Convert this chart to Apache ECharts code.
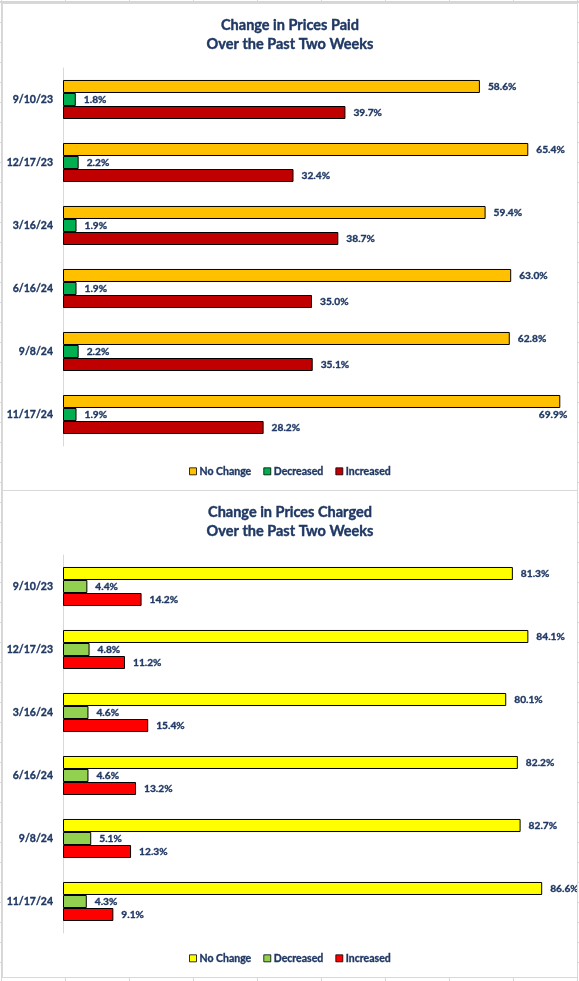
<!DOCTYPE html>
<html>
<head>
<meta charset="utf-8">
<script src="https://cdn.jsdelivr.net/npm/echarts@6/dist/echarts.min.js"></script>
<style>
  html, body { margin: 0; padding: 0; width: 579px; height: 981px; overflow: hidden; }
  body {
    background-color: #ffffff;
    background-image:
      repeating-linear-gradient(to right, #d6d6d6 0, #d6d6d6 1px, transparent 1px, transparent 64px),
      repeating-linear-gradient(to bottom, #d6d6d6 0, #d6d6d6 1px, transparent 1px, transparent 20px);
    background-position: 1px 2px, 0 2px;
    position: relative;
  }
  .box { position: absolute; left: 2px; width: 574px; height: 486px; background: #fff; border: 1px solid #d9d9d9; }
  #c1 { top: 3px; }
  #c2 { top: 490px; }
</style>
</head>
<body>
<div id="c1" class="box"></div>
<div id="c2" class="box"></div>
<script>
const categories = ['9/10/23', '12/17/23', '3/16/24', '6/16/24', '9/8/24', '11/17/24'];
const seriesNames = ['No Change', 'Decreased', 'Increased'];

const paidTitle = 'Change in Prices Paid\nOver the Past Two Weeks';
const paidNoChange = [58.6, 65.4, 59.4, 63.0, 62.8, 69.9];
const paidDecreased = [1.8, 2.2, 1.9, 1.9, 2.2, 1.9];
const paidIncreased = [39.7, 32.4, 38.7, 35.0, 35.1, 28.2];
const paidMax = 70;

const chargedTitle = 'Change in Prices Charged\nOver the Past Two Weeks';
const chargedNoChange = [81.3, 84.1, 80.1, 82.2, 82.7, 86.6];
const chargedDecreased = [4.4, 4.8, 4.6, 4.6, 5.1, 4.3];
const chargedIncreased = [14.2, 11.2, 15.4, 13.2, 12.3, 9.1];
const chargedMax = 90;

const NAVY = '#1f3864';
const FONT = 'Lato, "Open Sans", sans-serif';
const HEAVY = { textBorderColor: NAVY, textBorderWidth: 0.35 };

function build(title, values, colors, max) {
  const series = values.map((vals, si) => ({
    name: seriesNames[si],
    type: 'bar',
    barGap: '0%',
    barCategoryGap: '38%',
    itemStyle: { color: colors[si], borderColor: '#000', borderWidth: 1 },
    label: Object.assign({
      show: true, position: 'right', distance: 8,
      color: NAVY, fontFamily: FONT, fontWeight: 'bold', fontSize: 10.2,
      formatter: p => p.value.toFixed(1) + '%'
    }, HEAVY),
    data: vals.map(v => {
      if (si === 0 && v > max - 1) {
        return { value: v, label: { position: ['100%', '100%'], align: 'right', verticalAlign: 'top', offset: [7, 2] } };
      }
      return v;
    })
  }));
  return {
    animation: false,
    title: {
      text: title, left: 'center', top: 7,
      textStyle: Object.assign({ color: NAVY, fontFamily: FONT, fontWeight: 'bold', fontSize: 14.5, lineHeight: 19 }, { textBorderColor: NAVY, textBorderWidth: 0.4 })
    },
    legend: {
      data: seriesNames, bottom: 8, left: 'center',
      itemWidth: 7, itemHeight: 7, itemGap: 12,
      icon: 'rect',
      itemStyle: { borderColor: '#000', borderWidth: 0.8 },
      textStyle: Object.assign({ color: NAVY, fontFamily: FONT, fontWeight: 'bold', fontSize: 10.5, padding: [0, 0, 0, -2] }, HEAVY)
    },
    grid: { left: 60, right: 16, top: 64, bottom: 44, containLabel: false },
    xAxis: { type: 'value', min: 0, max: max, show: false, splitLine: { show: false } },
    yAxis: {
      type: 'category', data: categories, inverse: true,
      axisLine: { show: true, lineStyle: { color: '#d9d9d9', width: 1 } },
      axisTick: { show: false },
      axisLabel: Object.assign({ color: NAVY, fontFamily: FONT, fontWeight: 'bold', fontSize: 10.5, margin: 10 }, HEAVY)
    },
    series: series
  };
}

const c1 = echarts.init(document.getElementById('c1'));
c1.setOption(build(paidTitle, [paidNoChange, paidDecreased, paidIncreased], ['#ffc000', '#00b050', '#c00000'], paidMax));
const c2 = echarts.init(document.getElementById('c2'));
c2.setOption(build(chargedTitle, [chargedNoChange, chargedDecreased, chargedIncreased], ['#ffff00', '#92d050', '#ff0000'], chargedMax));
</script>
</body>
</html>
